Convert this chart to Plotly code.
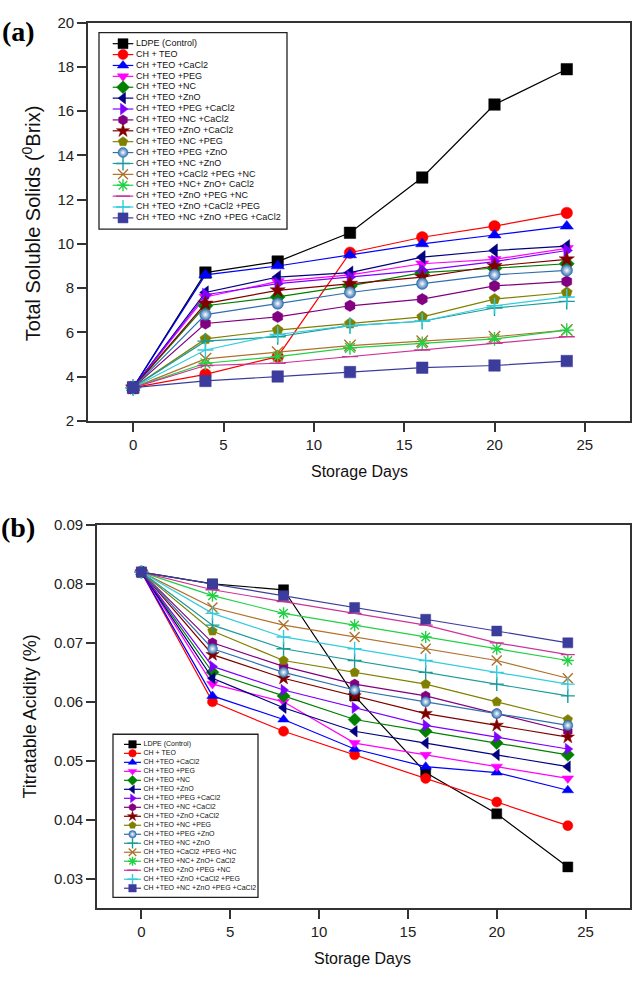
import plotly.graph_objects as go

# ---------------- data ----------------
days = [0, 4, 8, 12, 16, 20, 24]

names = [
    "LDPE (Control)", "CH + TEO", "CH +TEO +CaCl2", "CH +TEO +PEG", "CH +TEO +NC",
    "CH +TEO +ZnO", "CH +TEO +PEG +CaCl2", "CH +TEO +NC +CaCl2", "CH +TEO +ZnO +CaCl2",
    "CH +TEO +NC +PEG", "CH +TEO +PEG +ZnO", "CH +TEO +NC +ZnO", "CH +TEO +CaCl2 +PEG +NC",
    "CH +TEO +NC+ ZnO+ CaCl2", "CH +TEO +ZnO +PEG +NC", "CH +TEO +ZnO +CaCl2 +PEG",
    "CH +TEO +NC +ZnO +PEG +CaCl2",
]

# (a) Total soluble solids (°Brix)
tss_ldpe = [3.5, 8.7, 9.2, 10.5, 13.0, 16.3, 17.9]
tss_teo = [3.5, 4.1, 4.9, 9.6, 10.3, 10.8, 11.4]
tss_cacl2 = [3.5, 8.6, 9.0, 9.5, 10.0, 10.4, 10.8]
tss_peg = [3.5, 7.6, 8.3, 8.6, 9.1, 9.3, 9.8]
tss_nc = [3.5, 7.2, 7.6, 8.1, 8.7, 8.9, 9.1]
tss_zno = [3.5, 7.8, 8.5, 8.7, 9.4, 9.7, 9.9]
tss_peg_cacl2 = [3.5, 7.7, 8.2, 8.5, 8.8, 9.2, 9.7]
tss_nc_cacl2 = [3.5, 6.4, 6.7, 7.2, 7.5, 8.1, 8.3]
tss_zno_cacl2 = [3.5, 7.3, 7.9, 8.2, 8.5, 9.0, 9.3]
tss_nc_peg = [3.5, 5.7, 6.1, 6.4, 6.7, 7.5, 7.8]
tss_peg_zno = [3.5, 6.8, 7.3, 7.8, 8.2, 8.6, 8.8]
tss_nc_zno = [3.5, 5.6, 5.8, 6.3, 6.5, 7.1, 7.4]
tss_cacl2_peg_nc = [3.5, 4.8, 5.1, 5.4, 5.6, 5.8, 6.1]
tss_nc_zno_cacl2 = [3.5, 4.6, 4.9, 5.3, 5.5, 5.7, 6.1]
tss_zno_peg_nc = [3.5, 4.5, 4.6, 4.9, 5.2, 5.5, 5.8]
tss_zno_cacl2_peg = [3.5, 5.2, 5.9, 6.3, 6.5, 7.2, 7.6]
tss_all = [3.5, 3.8, 4.0, 4.2, 4.4, 4.5, 4.7]

# (b) Titratable acidity (%)
ta_ldpe = [0.082, 0.080, 0.079, 0.061, 0.048, 0.041, 0.032]
ta_teo = [0.082, 0.060, 0.055, 0.051, 0.047, 0.043, 0.039]
ta_cacl2 = [0.082, 0.061, 0.057, 0.052, 0.049, 0.048, 0.045]
ta_peg = [0.082, 0.063, 0.060, 0.053, 0.051, 0.049, 0.047]
ta_nc = [0.082, 0.065, 0.061, 0.057, 0.055, 0.053, 0.051]
ta_zno = [0.082, 0.064, 0.059, 0.055, 0.053, 0.051, 0.049]
ta_peg_cacl2 = [0.082, 0.066, 0.062, 0.059, 0.056, 0.054, 0.052]
ta_nc_cacl2 = [0.082, 0.070, 0.066, 0.063, 0.061, 0.058, 0.055]
ta_zno_cacl2 = [0.082, 0.068, 0.064, 0.061, 0.058, 0.056, 0.054]
ta_nc_peg = [0.082, 0.072, 0.067, 0.065, 0.063, 0.060, 0.057]
ta_peg_zno = [0.082, 0.069, 0.065, 0.062, 0.060, 0.058, 0.056]
ta_nc_zno = [0.082, 0.073, 0.069, 0.067, 0.065, 0.063, 0.061]
ta_cacl2_peg_nc = [0.082, 0.076, 0.073, 0.071, 0.069, 0.067, 0.064]
ta_nc_zno_cacl2 = [0.082, 0.078, 0.075, 0.073, 0.071, 0.069, 0.067]
ta_zno_peg_nc = [0.082, 0.079, 0.077, 0.075, 0.073, 0.070, 0.068]
ta_zno_cacl2_peg = [0.082, 0.075, 0.071, 0.069, 0.067, 0.065, 0.063]
ta_all = [0.082, 0.080, 0.078, 0.076, 0.074, 0.072, 0.070]

x_ticks = [0, 5, 10, 15, 20, 25]
tss_ticks = [2, 4, 6, 8, 10, 12, 14, 16, 18, 20]
ta_ticks = [0.03, 0.04, 0.05, 0.06, 0.07, 0.08, 0.09]

tss_series = [tss_ldpe, tss_teo, tss_cacl2, tss_peg, tss_nc, tss_zno, tss_peg_cacl2,
              tss_nc_cacl2, tss_zno_cacl2, tss_nc_peg, tss_peg_zno, tss_nc_zno,
              tss_cacl2_peg_nc, tss_nc_zno_cacl2, tss_zno_peg_nc, tss_zno_cacl2_peg, tss_all]
ta_series = [ta_ldpe, ta_teo, ta_cacl2, ta_peg, ta_nc, ta_zno, ta_peg_cacl2,
             ta_nc_cacl2, ta_zno_cacl2, ta_nc_peg, ta_peg_zno, ta_nc_zno,
             ta_cacl2_peg_nc, ta_nc_zno_cacl2, ta_zno_peg_nc, ta_zno_cacl2_peg, ta_all]

# ---------------- styles ----------------
colors = ["#000000", "#FF0000", "#0000FF", "#FF00FF", "#008000", "#000080", "#8000FF",
          "#800080", "#800000", "#808000", "#2F6FAF", "#1A9A9A", "#B0702A", "#22D044",
          "#CC3399", "#33CCDD", "#3C3C9C"]
symbols = ["square", "circle", "triangle-up", "triangle-down", "diamond", "triangle-left",
           "triangle-right", "hexagon", "star", "pentagon", "circle", "cross-thin", "x-thin",
           "asterisk", "line-ew", "cross-thin", "square"]
thin = {"cross-thin", "x-thin", "asterisk", "line-ew"}

W, H = 632, 983
SANS = "Liberation Sans"
SERIF = "Liberation Serif"


def marker(i, size):
    sym = symbols[i]
    m = dict(symbol=sym, size=size, color=colors[i])
    if sym in thin:
        m["line"] = dict(color=colors[i], width=1.4)
    else:
        m["line"] = dict(color=colors[i], width=0.5)
    if i == 10:
        m["gradient"] = dict(type="radial", color="#FFFFFF")
    return m


fig = go.Figure()

for i, ys in enumerate(tss_series):
    fig.add_trace(go.Scatter(x=days, y=ys, mode="lines+markers", name=names[i],
                             line=dict(color=colors[i], width=1.2),
                             marker=marker(i, 11.5), xaxis="x", yaxis="y", showlegend=False))
for i, ys in enumerate(ta_series):
    fig.add_trace(go.Scatter(x=days, y=ys, mode="lines+markers", name=names[i],
                             line=dict(color=colors[i], width=1.2),
                             marker=marker(i, 10), xaxis="x2", yaxis="y2", showlegend=False))

# ---------------- custom legends (pixel overlay axes) ----------------
legends = [
    dict(box=(99, 24, 287, 224), y0=35.3, dy=11.08, lx=(112.7, 133.3), tx=136, font=9, msize=10),
    dict(box=(113, 738, 258, 904), y0=748.3, dy=9.15, lx=(124, 141), tx=143.5, font=7, msize=7.5),
]
shapes = []
for lg in legends:
    x0, y0, x1, y1 = lg["box"]
    shapes.append(dict(type="rect", xref="x3", yref="y3", x0=x0, y0=y0, x1=x1, y1=y1,
                       line=dict(color="#222222", width=1.3), fillcolor="white", layer="below"))
    ys = [lg["y0"] + lg["dy"] * k for k in range(len(names))]
    for i in range(len(names)):
        fig.add_trace(go.Scatter(x=list(lg["lx"]), y=[ys[i], ys[i]], mode="lines",
                                 line=dict(color=colors[i], width=1.2),
                                 xaxis="x3", yaxis="y3", showlegend=False, hoverinfo="skip"))
        fig.add_trace(go.Scatter(x=[(lg["lx"][0] + lg["lx"][1]) / 2], y=[ys[i]], mode="markers",
                                 marker=marker(i, lg["msize"]),
                                 xaxis="x3", yaxis="y3", showlegend=False, hoverinfo="skip"))
    fig.add_trace(go.Scatter(x=[lg["tx"]] * len(names), y=ys, mode="text", text=names,
                             textposition="middle right", cliponaxis=False,
                             textfont=dict(family=SANS, size=lg["font"], color="#111111"),
                             xaxis="x3", yaxis="y3", showlegend=False, hoverinfo="skip"))

axis_common = dict(showline=True, linewidth=1.6, linecolor="#333333", mirror=True,
                   ticks="outside", ticklen=9, tickwidth=1.5, tickcolor="#333333",
                   showgrid=False, zeroline=False,
                   tickfont=dict(family=SANS, size=15, color="#222222"))

fig.update_layout(
    width=W, height=H,
    margin=dict(l=0, r=0, t=0, b=0),
    paper_bgcolor="white", plot_bgcolor="rgba(0,0,0,0)",
    font=dict(family=SANS),
    xaxis=dict(domain=[88 / W, 630 / W], range=[-2.5, 27.5], tickvals=x_ticks, anchor="y", **axis_common),
    yaxis=dict(domain=[1 - 419 / H, 1 - 14 / H], range=[2, 20], tickvals=tss_ticks, anchor="x", **axis_common),
    xaxis2=dict(domain=[97 / W, 630 / W], range=[-2.5, 27.5], tickvals=x_ticks, anchor="y2", **axis_common),
    yaxis2=dict(domain=[1 - 915 / H, 1 - 525 / H], range=[0.025, 0.09], tickvals=ta_ticks,
                tickformat=".2f", anchor="x2", **axis_common),
    xaxis3=dict(domain=[0, 1], range=[0, W], visible=False, anchor="y3", fixedrange=True),
    yaxis3=dict(domain=[0, 1], range=[H, 0], visible=False, anchor="x3", fixedrange=True),
    shapes=shapes,
    showlegend=False,
)

annotations = [
    dict(text="Total Soluble Solids (<sup>0</sup>Brix)", x=31 / W, y=1 - 218 / H, textangle=-90,
         font=dict(family=SANS, size=20, color="#111111")),
    dict(text="Titratable Acidity (%)", x=30 / W, y=1 - 720 / H, textangle=-90,
         font=dict(family=SANS, size=18, color="#111111")),
    dict(text="Storage Days", x=359 / W, y=1 - 471 / H, font=dict(family=SANS, size=16, color="#111111")),
    dict(text="Storage Days", x=363 / W, y=1 - 966 / H, font=dict(family=SANS, size=16, color="#111111")),
    dict(text="<b>(a)</b>", x=18 / W, y=1 - 23 / H, font=dict(family=SERIF, size=28, color="#000000")),
    dict(text="<b>(b)</b>", x=18 / W, y=1 - 528 / H, font=dict(family=SERIF, size=28, color="#000000")),
]
for a in annotations:
    a.update(xref="paper", yref="paper", showarrow=False, xanchor="center", yanchor="middle")
fig.update_layout(annotations=annotations)

fig.write_html("out.html", config={"displayModeBar": False},
               post_script="document.body.style.margin='0';document.body.style.padding='0';"
                           "document.body.style.overflow='hidden';")
